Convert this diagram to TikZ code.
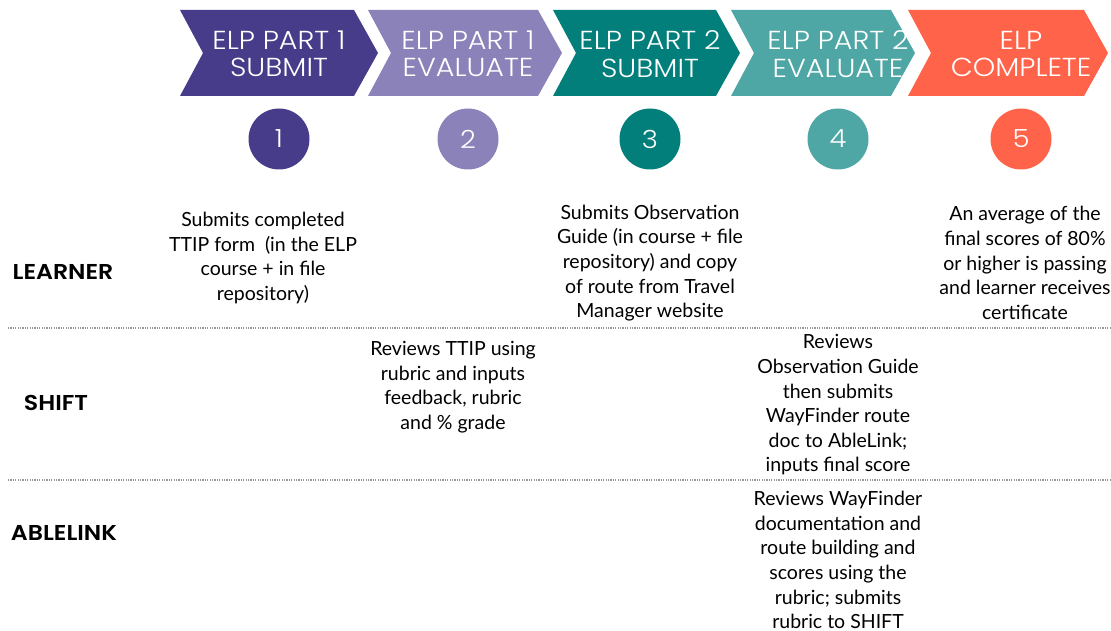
\documentclass[tikz,border=0pt]{standalone}
\usepackage{fontspec}
\setmainfont{Lato}
\newfontfamily\headfont{Poppins}[UprightFont={* Light}, FakeStretch=1.1]
\newfontfamily\lanefont{Poppins}[UprightFont={* SemiBold}, FakeStretch=1.1]
\usepackage{tikz}

\definecolor{stepA}{HTML}{473C8A}
\definecolor{stepB}{HTML}{8A82B8}
\definecolor{stepC}{HTML}{037F7B}
\definecolor{stepD}{HTML}{4FA7A5}
\definecolor{stepE}{HTML}{FF644A}

\tikzset{
  chevtext/.style={text=white, align=center, font=\headfont\fontsize{26}{27.5}\selectfont},
  numdot/.style={circle, minimum size=61pt, inner sep=0pt, text=white, font=\headfont\fontsize{25}{25}\selectfont},
  rowlabel/.style={font=\lanefont\fontsize{21.5}{21.5}\selectfont},
  taskbox/.style={align=center, font=\fontsize{19.5}{24.6}\selectfont},
  lanesep/.style={gray!80, line width=1.1pt, dash pattern=on 1.1pt off 1.3pt}
}

\begin{document}
\begin{tikzpicture}[x=1pt, y=-1pt]

  \useasboundingbox (0,0) rectangle (1111,631);

  % --- chevrons: left edge / tip / centre / colour / number / label ---
  \foreach \l/\r/\c/\col/\n/\txt in {
      180/378/279/stepA/1/{ELP PART 1\\SUBMIT},
      368/562/468/stepB/2/{ELP PART 1\\EVALUATE},
      553/740/650/stepC/3/{ELP PART 2\\SUBMIT},
      731/915/838/stepD/4/{ELP PART 2\\EVALUATE},
      908/1108/1021/stepE/5/{ELP\\COMPLETE}} {
    \fill[\col] (\l,10) -- (\r-24,10) -- (\r,53) -- (\r-24,96)
      -- (\l,96) -- (\l+23,53) -- cycle;
    \node[chevtext] (chev\n) at (\c,54) {\txt};
    \node[numdot, fill=\col] (num\n) at (\c,139) {\n};
  }

  % --- swim lanes ---
  \node[rowlabel] (learner) at (63,272) {LEARNER};
  \node[rowlabel] (shift) at (56,403) {SHIFT};
  \node[rowlabel] (ablelink) at (64,533) {ABLELINK};

  \draw[lanesep] (8,328) -- (1111,328);
  \draw[lanesep] (8,480) -- (1111,480);

  % --- learner tasks ---
  \node[taskbox] (learnerA) at (263,258) {Submits completed\\TTIP form\ \ (in the ELP\\course + in file\\repository)};
  \node[taskbox] (learnerC) at (650,263) {Submits Observation\\Guide (in course + file\\repository) and copy\\of route from Travel\\Manager website};
  \node[taskbox] (learnerE) at (1025,263) {An average of the\\final scores of 80\%\\or higher is passing\\and learner receives\\certificate};

  % --- shift tasks ---
  \node[taskbox] (shiftB) at (453,387) {Reviews TTIP using\\rubric and inputs\\feedback, rubric\\and \% grade};
  \node[taskbox] (shiftD) at (838,405) {Reviews\\Observation Guide\\then submits\\WayFinder route\\doc to AbleLink;\\inputs final score};

  % --- ablelink tasks ---
  \node[taskbox] (ablelinkD) at (838,560) {Reviews WayFinder\\documentation and\\route building and\\scores using the\\rubric; submits\\rubric to SHIFT};

\end{tikzpicture}
\end{document}
